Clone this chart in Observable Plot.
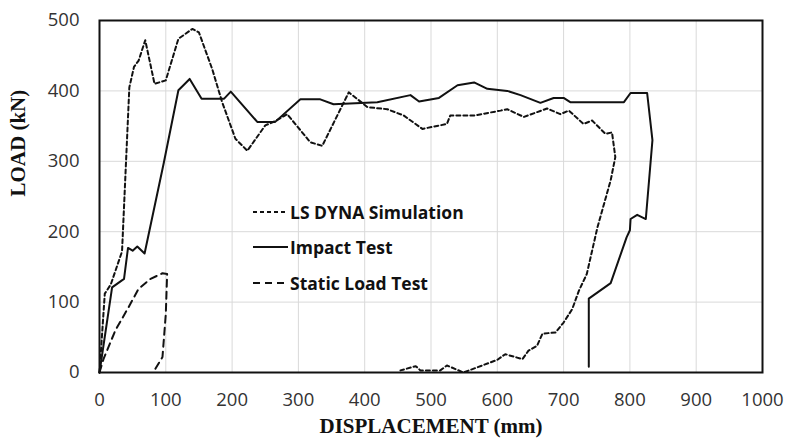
<!DOCTYPE html>
<html>
<head>
<meta charset="utf-8">
<script src="https://cdn.jsdelivr.net/npm/d3@7"></script>
<script src="https://cdn.jsdelivr.net/npm/@observablehq/plot@0.6"></script>
<style>
  body { margin: 0; background: #fff; }
  #wrap { position: relative; width: 785px; height: 440px; }
  #legend { position: absolute; left: 253px; top: 194px; font: bold 17.5px "Open Sans", sans-serif; color: #111; }
  .item { display: flex; align-items: center; height: 35.5px; }
  .item svg { width: 36px; height: 12px; margin-right: 1px; }
</style>
</head>
<body>
<div id="wrap"></div>
<script>
// LS DYNA Simulation: displacement (mm), load (kN)
const simX = [0,8,17,34,45,52,59,69,83,100,119,140,150,170,185,205,223,250,265,283,318,336,376,404,434,459,487,524,529,565,605,615,640,675,695,708,730,743,763,773,778,771,751,735,723,713,700,688,668,660,647,638,612,600,549,524,514,484,477,454];
const simY = [0,112,125,172,405,434,443,472,410,415,474,488,483,431,384,332,315,351,357,367,327,322,398,377,374,365,346,353,365,365,372,374,363,375,367,372,353,358,339,341,306,273,206,140,116,90,71,57,55,38,31,19,26,18,0,10,3,3,9,3];

// Impact Test
const impX = [0,19,37,43,50,57,68,97,119,136,154,188,198,238,265,303,333,353,419,469,482,512,540,565,585,615,635,665,685,700,710,791,801,826,834,824,811,801,800,795,771,738,738];
const impY = [0,121,133,177,173,179,169,298,401,417,389,389,399,356,356,388,388,381,384,394,385,390,408,412,403,400,394,383,390,390,384,384,397,397,330,218,224,218,202,192,127,105,8];

// Static Load Test
const statX = [0,6,24,44,59,77,95,102,100,95,84];
const statY = [0,19,60,93,119,133,141,140,83,22,5];

const xTicks = [0,100,200,300,400,500,600,700,800,900,1000];
const yTicks = [0,100,200,300,400,500];
const xTitle = "DISPLACEMENT (mm)";
const yTitle = "LOAD (kN)";
const seriesNames = ["LS DYNA Simulation", "Impact Test", "Static Load Test"];
const dashes = ["4,3", null, "7,5"];

const toRows = (xs, ys) => xs.map((x, i) => ({x, y: ys[i]}));
const sim = toRows(simX, simY);
const imp = toRows(impX, impY);
const stat = toRows(statX, statY);

const chart = Plot.plot({
  width: 785,
  height: 440,
  marginLeft: 99,
  marginRight: 23,
  marginTop: 20,
  marginBottom: 68,
  x: {domain: [0, 1000]},
  y: {domain: [0, 500]},
  style: {background: "#fff"},
  marks: [
    Plot.gridX(xTicks, {stroke: "#d9d9d9", strokeOpacity: 1, strokeWidth: 1}),
    Plot.gridY(yTicks, {stroke: "#d9d9d9", strokeOpacity: 1, strokeWidth: 1}),
    Plot.axisX({ticks: xTicks, tickFormat: d => String(d), tickSize: 0, tickPadding: 20, label: null, fontSize: 18.5, fontFamily: "Open Sans", fill: "#333"}),
    Plot.axisY({ticks: yTicks, tickFormat: d => String(d), tickSize: 0, tickPadding: 20, label: null, fontSize: 18.5, fontFamily: "Open Sans", fill: "#333"}),
    Plot.line(stat, {x: "x", y: "y", stroke: "#111", strokeWidth: 2, strokeDasharray: dashes[2], curve: "linear"}),
    Plot.line(sim, {x: "x", y: "y", stroke: "#111", strokeWidth: 2, strokeDasharray: dashes[0], curve: "linear"}),
    Plot.line(imp, {x: "x", y: "y", stroke: "#111", strokeWidth: 2, curve: "linear"}),
    Plot.frame({stroke: "#111", strokeWidth: 2}),
    Plot.text([xTitle], {frameAnchor: "bottom", dy: 60, fontSize: 21, fontWeight: "bold", fontFamily: "Liberation Serif", fill: "#111"}),
    Plot.text([yTitle], {frameAnchor: "left", dx: -81, rotate: -90, fontSize: 21, fontWeight: "bold", fontFamily: "Liberation Serif", fill: "#111"})
  ]
});

const wrap = document.getElementById("wrap");
wrap.appendChild(chart);

const legend = document.createElement("div");
legend.id = "legend";
seriesNames.forEach((name, i) => {
  const item = document.createElement("div");
  item.className = "item";
  const dash = dashes[i] ? ` stroke-dasharray="${dashes[i]}"` : "";
  item.innerHTML = `<svg viewBox="0 0 36 12"><line x1="0" y1="6" x2="35" y2="6" stroke="#111" stroke-width="2"${dash}/></svg><span>${name}</span>`;
  legend.appendChild(item);
});
wrap.appendChild(legend);
</script>
</body>
</html>
